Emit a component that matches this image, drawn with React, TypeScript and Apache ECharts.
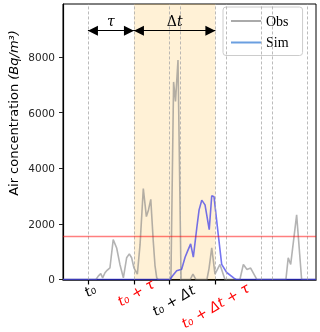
import React, { useEffect, useRef } from 'react';
import * as echarts from 'echarts';

// ---- data ----
const t0 = 13;
const tau = 24;
const dt = 42.5;
const xMax = 132;
const yMax = 9900;
const yTicks = [0, 2000, 4000, 6000, 8000];
const xTickValues = [t0, t0 + tau, t0 + dt, t0 + dt + tau];
const xTickLabels = ['t₀', 't₀ + τ', 't₀ + Δt', 't₀ + Δt + τ'];
const xTickColors = ['#000000', '#ff0000', '#000000', '#ff0000'];
const guideLines = [13, 37, 61, 85, 109, 55.5, 79.5, 103.5, 127.5];
const shadeRange = [t0 + tau, t0 + dt + tau];
const threshold = 1550;
const arrowLevel = 8940;

const obs: [number, number][] = [
  [0, 0], [17.2, 0], [18.4, 120], [19.7, 210], [20.7, 60], [21.9, 240], [23, 330],
  [24.5, 420], [26.2, 1430], [28, 1130], [29.7, 540], [31.5, 60], [33.2, 780],
  [34.6, 920], [35.8, 780], [37, 420], [38.8, 190], [40.2, 1250], [41.9, 3270],
  [43.5, 2260], [44.6, 2500], [45.8, 2880], [47.1, 1370], [48, 500], [48.9, 60],
  [49.6, 0], [56.3, 0], [57.7, 7100], [58.7, 6400], [60, 7890], [61.6, 0],
  [66.4, 0], [67.8, 190], [69.3, 0], [75.1, 0], [76.2, 400], [77.6, 1140],
  [79.3, 190], [81.9, 540], [84.5, 0], [92.3, 0], [94.1, 540], [96, 360],
  [97.9, 410], [101.1, 0], [116.3, 0], [117.5, 780], [118.8, 540], [121.9, 2320],
  [124.5, 0], [132, 0],
];

const sim: [number, number][] = [
  [0, 0], [55.8, 0], [57.4, 150], [59.3, 310], [61.9, 370], [63.7, 800], [65, 1020],
  [66.6, 1280], [68, 800], [69.8, 1850], [71, 2500], [72.4, 2850], [74.1, 2680],
  [76.3, 1790], [77.6, 3010], [78.8, 2970], [81, 1610], [82.8, 540], [85.4, 250],
  [89.2, 50], [90.3, 0], [132, 0],
];

// ---- label style (padding used to shift rotated tick labels) ----
const tickPads = [
  [2, 0, 0, 3.5],
  [5.5, 2, 0, 3.5],
  [21.3, 10, 0, 7],
  [26, 15, 0, 0],
];

export default function App() {
  const ref = useRef<HTMLDivElement>(null);
  useEffect(() => {
    if (!ref.current) return;
    const chart = echarts.init(ref.current, null, { renderer: 'svg' });
    const rich: any = {};
    xTickLabels.forEach((_, i) => {
      rich['l' + i] = {
        color: xTickColors[i],
        fontFamily: 'DejaVu Sans',
        fontStyle: 'italic',
        fontSize: 14,
        padding: tickPads[i],
      };
    });
    chart.setOption({
      animation: false,
      grid: { left: 63, right: 4, top: 4, bottom: 50, show: true, borderColor: '#000', borderWidth: 1, backgroundColor: 'transparent' },
      legend: {
        data: [
          { name: 'Obs', itemStyle: { color: '#aaaaaa' } },
          { name: 'Sim', itemStyle: { color: '#6a9fe0' } },
        ],
        icon: 'rect',
        orient: 'vertical',
        left: 223,
        top: 7,
        padding: [7, 14, 6, 8],
        itemWidth: 30,
        itemHeight: 2,
        itemGap: 7.5,
        backgroundColor: '#ffffff',
        borderColor: '#cccccc',
        borderWidth: 1,
        borderRadius: 3,
        textStyle: { fontFamily: 'Liberation Serif', fontSize: 14, color: '#000' },
      },
      xAxis: {
        type: 'value',
        min: 0,
        max: xMax,
        splitLine: { show: false },
        axisLine: { show: true, onZero: false, lineStyle: { color: '#000', width: 1.5 } },
        axisTick: { show: true, customValues: xTickValues, length: 5, lineStyle: { color: '#000', width: 1.2 } },
        axisLabel: {
          customValues: xTickValues,
          rotate: 30,
          align: 'center',
          verticalAlign: 'middle',
          margin: 11,
          formatter: (v: number) => {
            let idx = 0;
            let best = Infinity;
            xTickValues.forEach((tv, i) => {
              if (Math.abs(tv - v) < best) { best = Math.abs(tv - v); idx = i; }
            });
            return '{l' + idx + '|' + xTickLabels[idx] + '}';
          },
          rich,
        },
      },
      yAxis: {
        type: 'value',
        min: 0,
        max: yMax,
        splitLine: { show: false },
        axisLine: { show: true, lineStyle: { color: '#000', width: 1.2 } },
        axisTick: { show: true, customValues: yTicks, length: 4, lineStyle: { color: '#222' } },
        axisLabel: {
          customValues: yTicks,
          margin: 8,
          fontFamily: 'DejaVu Sans',
          fontSize: 10.5,
          color: '#262626',
          formatter: (v: number) => String(v),
        },
      },
      graphic: [
        {
          type: 'text',
          x: 13,
          y: 113,
          rotation: Math.PI / 2,
          style: {
            text: '{a|Air concentration }{b|(Bq/m³)}',
            align: 'center',
            verticalAlign: 'middle',
            fill: '#000',
            rich: {
              a: { fontFamily: 'DejaVu Sans', fontSize: 13, fill: '#000' },
              b: { fontFamily: 'DejaVu Sans', fontSize: 13, fontStyle: 'italic', fill: '#000' },
            },
          },
        },
      ],
      series: [
        {
          name: 'guides',
          type: 'line',
          data: [],
          z: 1,
          silent: true,
          markArea: {
            silent: true,
            itemStyle: { color: 'rgba(255,165,0,0.16)' },
            data: [[{ xAxis: shadeRange[0] }, { xAxis: shadeRange[1] }]],
          },
          markLine: {
            silent: true,
            symbol: ['none', 'none'],
            label: { show: false },
            lineStyle: { color: '#aaaaaa', type: [3, 2], width: 0.8 },
            data: [
              ...guideLines.map((v) => ({ xAxis: v })),
              { yAxis: threshold, lineStyle: { color: 'rgba(255,0,0,0.5)', type: 'solid', width: 1.3 } },
            ],
          },
        },
        {
          name: 'Obs',
          type: 'line',
          data: obs,
          symbol: 'none',
          z: 3,
          lineStyle: { color: 'rgba(128,128,128,0.6)', width: 1.6 },
          itemStyle: { color: '#aaaaaa' },
        },
        {
          name: 'Sim',
          type: 'line',
          data: sim,
          symbol: 'none',
          z: 4,
          lineStyle: { color: 'rgba(50,50,235,0.68)', width: 1.6 },
          itemStyle: { color: '#6a9fe0' },
        },
        {
          name: 'arrows',
          type: 'line',
          data: [],
          z: 5,
          silent: true,
          markLine: {
            silent: true,
            symbol: ['triangle', 'triangle'],
            symbolSize: 10,
            symbolOffset: [[0, 5], [0, 5]],
            lineStyle: { color: '#000', type: 'solid', width: 1.2 },
            itemStyle: { color: '#000' },
            label: {
              show: true,
              position: 'middle',
              distance: 3,
              color: '#000',
              fontFamily: 'DejaVu Serif',
              fontSize: 14,
            },
            data: [
              [
                { coord: [t0, arrowLevel], label: { formatter: '{i|τ}', rich: { i: { fontStyle: 'italic', fontFamily: 'DejaVu Serif', fontSize: 14 } } } },
                { coord: [t0 + tau, arrowLevel] },
              ],
              [
                { coord: [t0 + tau, arrowLevel], label: { formatter: '{d|Δ}{i|t}', rich: { d: { fontFamily: 'DejaVu Serif', fontSize: 14 }, i: { fontStyle: 'italic', fontFamily: 'DejaVu Serif', fontSize: 14 } } } },
                { coord: [t0 + dt + tau, arrowLevel] },
              ],
            ],
          },
        },
      ],
    });
    return () => chart.dispose();
  }, []);
  return <div ref={ref} style={{ position: 'fixed', left: 0, top: 0, width: 320, height: 332 }} />;
}
